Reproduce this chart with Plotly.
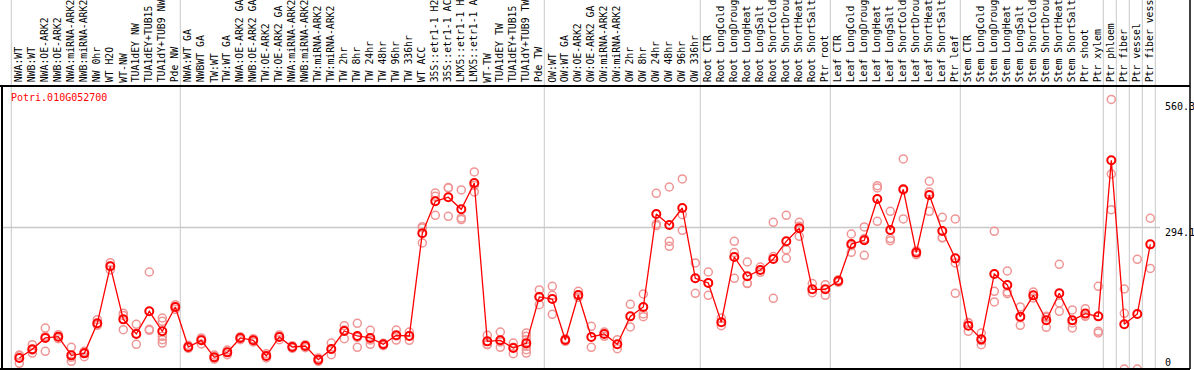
import plotly.graph_objects as go

categories = [
    "NWA:WT", "NWB:WT", "NWA:OE-ARK2", "NWB:OE-ARK2", "NWA:miRNA-ARK2", "NWB:miRNA-ARK2",
    "NW 0hr", "WT H2O", "WT-NW", "TUA1dEY NW", "TUA1dEY+TUB15", "TUA1dY+TUB9 NW", "Pde NW",
    "NWA:WT GA", "NWBWT GA", "TW:WT", "TW:WT GA", "NWA:OE-ARK2 GA", "NWB:OE-ARK2 GA",
    "TW:OE-ARK2", "TW:OE-ARK2 GA", "NWA:miRNA-ARK2", "NWB:miRNA-ARK2", "TW:miRNA-ARK2",
    "TW:miRNA-ARK2", "TW 2hr", "TW 8hr", "TW 24hr", "TW 48hr", "TW 96hr", "TW 336hr",
    "WT ACC", "35S::etr1-1 H2", "35S::etr1-1 AC", "LMX5::etr1-1 H", "LMX5::etr1-1 A",
    "WT-TW", "TUA1dEY TW", "TUA1dEY+TUB15", "TUA1dY+TUB9 TW", "Pde TW",
    "OW:WT", "OW:WT GA", "OW:OE-ARK2", "OW:OE-ARK2 GA", "OW:miRNA-ARK2", "OW:miRNA-ARK2",
    "OW 2hr", "OW 8hr", "OW 24hr", "OW 48hr", "OW 96hr", "OW 336hr",
    "Root CTR", "Root LongCold", "Root LongDroug", "Root LongHeat", "Root LongSalt",
    "Root ShortCold", "Root ShortDrou", "Root ShortHeat", "Root ShortSalt", "Ptr root",
    "Leaf CTR", "Leaf LongCold", "Leaf LongDroug", "Leaf LongHeat", "Leaf LongSalt",
    "Leaf ShortCold", "Leaf ShortDrou", "Leaf ShortHeat", "Leaf ShortSalt", "Ptr leaf",
    "Stem CTR", "Stem LongCold", "Stem LongDroug", "Stem LongHeat", "Stem LongSalt",
    "Stem ShortCold", "Stem ShortDrou", "Stem ShortHeat", "Stem ShortSalt", "Ptr shoot",
    "Ptr xylem", "Ptr phloem", "Ptr fiber", "Ptr vessel", "Ptr fiber vess",
]

mean_values = [
    22.9, 40.9, 64.5, 67.2, 28.4, 32.5, 95.0, 213.5, 103.2, 72.8, 119.9, 78.3, 128.9,
    45.7, 59.6, 24.3, 34.6, 64.5, 59.6, 27.0, 66.6, 45.7, 47.8, 19.4, 41.6, 79.0, 68.6,
    64.5, 51.3, 70.0, 68.6, 282.0, 348.5, 357.0, 331.9, 386.5, 57.5, 59.6, 43.7, 53.3, 149.7,
    145.5, 60.2, 153.8, 66.6, 72.8, 51.3, 109.4, 128.9, 322.2, 299.3, 334.6, 188.5,
    178.8, 97.0, 232.8, 192.7, 205.8, 228.6, 265.4, 292.4, 165.6, 165.6,
    182.9, 259.8, 267.5, 353.4, 288.9, 373.5, 241.9, 361.8, 286.9, 230.0,
    90.1, 61.6, 197.5, 174.6, 108.8, 153.1, 101.2, 157.3, 101.2, 115.1, 109.4,
    433.8, 92.9, 114.4, 259.1,
]

replicates = [
    [27.7, 11.7, 29], [50.6, 33.2, 39], [85.2, 36.7, 68], [71.4, 63.1, 67],
    [45.1, 16.0, 24.3], [36.7, 25.6, 35], [102.5, 90.7, 92], [221, 205.8, 214],
    [115.8, 81.7, 111.4], [92.9, 51.3, 74], [201.6, 82.4, 80.4],
    [106, 99.1, 67.9, 60.9, 54.0], [133.7, 124, 129],
    [49.2, 43.0, 45], [64.5, 52.0, 62], [29.1, 20.7, 23], [39.4, 29.8, 35],
    [67.2, 61.0, 65], [63.1, 56.2, 60], [31.8, 22.9, 27], [70.7, 61.0, 68],
    [48.5, 43.0, 46], [50.6, 44.4, 48], [22.9, 16.0, 19], [54.0, 29.8, 41],
    [90.1, 63.1, 80.9], [95.0, 45.1, 65.9], [80.4, 51.3, 60.2], [53.3, 48.5, 52],
    [81.0, 60.2, 69], [76.9, 59.6, 69], [295.9, 262.0, 293.1], [365.8, 358.9, 319.5],
    [376.3, 317.4, 377.1], [372.1, 314.0, 310.6], [409.5, 368.0, 381.6],
    [70.0, 50.6, 51.3], [76.9, 45.1, 56.2], [54.0, 31.8, 45.4],
    [74.8, 67.9, 60.9, 47.1, 40.2, 33.2], [164.3, 133.7, 150.9],
    [171.9, 113.7, 153.1], [63.1, 57.5], [161.4, 148.9], [88.7, 45.1], [76.9, 67.9],
    [60.9, 42.3], [134.4, 87.4], [155.9, 114.4, 108.8], [365.2, 301.4, 298.0],
    [378.3, 265.4, 255.0], [395.0, 320.8, 288.3], [220.4, 157.3],
    [201.6, 153.1, 179.4], [106, 90.1], [265.4, 241.9, 188.5], [222.4, 178.1, 177.5],
    [212.0, 201.0], [304.9, 146.9, 233.7], [319.5, 248.1, 230.0], [304.9, 275.8, 296.8],
    [177.5, 158.7], [175.3, 153.1],
    [185.7, 180.1], [280.6, 242.6, 256.4], [295.2, 236.2, 271.2], [381.1, 376.3, 306.9],
    [327.7, 271.0, 266.8], [436.6, 311.9, 371.7], [245.3, 237.6], [390.2, 368.0, 327.7],
    [315.3, 272.3, 273.1], [311.9, 220.4, 157.3],
    [95.6, 78.3, 96.6], [74.8, 50.6, 59.2], [286.2, 161.4, 139.3], [203.7, 160.0, 156.6],
    [128.9, 90.7, 106.5], [160.0, 147.6], [109.4, 86.6, 107.5], [217.6, 137.2, 119.9],
    [122.7, 85.2, 95.6], [125.4, 109.4, 110.4], [171.9, 78.3, 74.8],
    [560.3, 405.3, 331.2], [166.3, 115.8, 0], [228.0, 0], [313.3, 209.1],
]

group_boundaries = [0, 13, 41, 53, 63, 73, 84, 85, 86, 87, 88]
y_labels = [0, 294.1, 560.3]
y_max = 588.2
gene_id = "Potri.010G052700"

W, H = 1194, 370
L, R, T, B = 2, 4, 86, 1
PX = 13.0
x0 = -(19.3 - L) / PX
x1 = x0 + (W - L - R) / PX
plot_h = H - T - B
plot_w = W - L - R
top_paper = 1 + T / plot_h
mono = "DejaVu Sans Mono"

rx, ry = [], []
for i, reps in enumerate(replicates):
    for v in reps:
        rx.append(i)
        ry.append(v)

fig = go.Figure()
fig.add_trace(go.Scatter(
    x=rx, y=ry, mode="markers", hoverinfo="skip",
    marker=dict(symbol="circle-open", size=8, color="#F09595", line=dict(width=1.5)),
))
fig.add_trace(go.Scatter(
    x=list(range(len(categories))), y=mean_values, mode="lines+markers",
    line=dict(color="#FF0000", width=1.3),
    marker=dict(symbol="circle-open", size=8, color="#FF0000", line=dict(width=2)),
))

shapes = []
for b in group_boundaries:
    shapes.append(dict(type="line", xref="x", yref="paper", x0=b - 0.615, x1=b - 0.615,
                       y0=0, y1=top_paper, line=dict(color="#C8C8C8", width=1), layer="below"))
shapes.append(dict(type="line", xref="paper", yref="y", x0=0, x1=(1160 - L) / plot_w,
                   y0=y_labels[1], y1=y_labels[1], line=dict(color="#C8C8C8", width=1.5), layer="below"))
# frame
shapes.append(dict(type="line", xref="paper", yref="paper", x0=-L / plot_w, x1=1, y0=1, y1=1,
                   line=dict(color="black", width=2)))
shapes.append(dict(type="line", xref="paper", yref="paper", x0=-L / plot_w, x1=1, y0=0, y1=0,
                   line=dict(color="black", width=2)))
shapes.append(dict(type="line", xref="paper", yref="paper", x0=0, x1=0, y0=0, y1=1,
                   line=dict(color="black", width=2)))
shapes.append(dict(type="line", xref="paper", yref="paper", x0=1, x1=1, y0=0, y1=top_paper,
                   line=dict(color="black", width=1.5)))

annotations = []
for i, c in enumerate(categories):
    annotations.append(dict(x=i, xref="x", y=(369 - 84.5) / plot_h, yref="paper", text=c,
                            textangle=-90, showarrow=False, xanchor="center", yanchor="bottom",
                            font=dict(family=mono, size=9.8, color="black")))
annotations.append(dict(x=(9 - L) / plot_w, xref="paper", y=(369 - 97) / plot_h, yref="paper",
                        text=gene_id, showarrow=False, xanchor="left", yanchor="middle",
                        font=dict(family=mono, size=10, color="#FF0000")))
shifts = {0: 7, 294.1: -5, 560.3: -7}
for v in y_labels:
    annotations.append(dict(x=(1163 - L) / plot_w, xref="paper", y=v, yref="y", text=str(v),
                            showarrow=False, xanchor="left", yanchor="middle", yshift=shifts[v],
                            font=dict(family=mono, size=10, color="black")))

fig.update_layout(
    width=W, height=H, margin=dict(l=L, r=R, t=T, b=B, pad=0),
    paper_bgcolor="white", plot_bgcolor="white", showlegend=False,
    xaxis=dict(range=[x0, x1], visible=False, fixedrange=True),
    yaxis=dict(range=[0, y_max], visible=False, fixedrange=True),
    shapes=shapes, annotations=annotations,
)
fig.write_html("out.html", config={"displayModeBar": False},
               post_script="document.body.style.margin='0px';document.body.style.overflow='hidden';")
